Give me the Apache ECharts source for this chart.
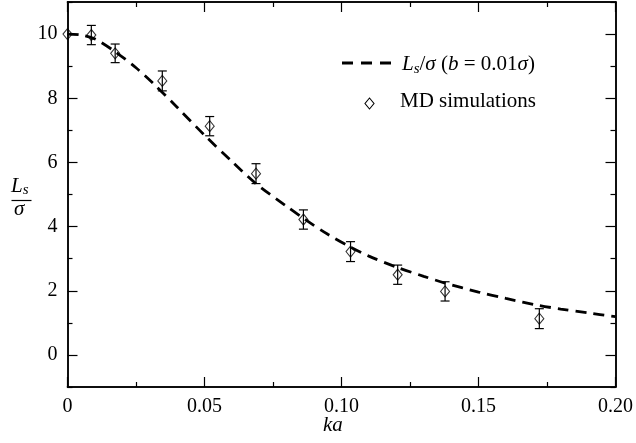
<!DOCTYPE html>
<html>
<head>
<meta charset="utf-8">
<script src="https://cdn.jsdelivr.net/npm/echarts@6/dist/echarts.min.js"></script>
<style>
html,body{margin:0;padding:0;background:#fff;}
#c{width:636px;height:443px;}
</style>
</head>
<body>
<div id="c"></div>
<script>
// MD simulation data
const kaMD  = [0, 0.0087, 0.0174, 0.0346, 0.0519, 0.0688, 0.0861, 0.1033, 0.1205, 0.1378, 0.1722];
const LsMD  = [10.0, 9.97, 9.40, 8.54, 7.13, 5.65, 4.22, 3.22, 2.50, 1.98, 1.13];
const errMD = [0, 0.30, 0.29, 0.31, 0.30, 0.31, 0.30, 0.31, 0.30, 0.30, 0.31];
// Theory curve L_s/sigma (b = 0.01 sigma)
const kaCurve = [0, 0.005, 0.01, 0.0174, 0.025, 0.0313, 0.04, 0.05, 0.06, 0.0689, 0.08, 0.0864, 0.095, 0.1033, 0.11, 0.12, 0.13, 0.1378, 0.15, 0.16, 0.1722, 0.18, 0.19, 0.20];
const LsCurve = [10.0, 9.97, 9.85, 9.45, 8.95, 8.46, 7.72, 6.85, 6.03, 5.33, 4.63, 4.24, 3.76, 3.36, 3.08, 2.74, 2.45, 2.24, 1.96, 1.76, 1.54, 1.43, 1.31, 1.19];
// Ticks
const xMajor = [0, 0.05, 0.10, 0.15, 0.20];
const xMinor = [0.025, 0.075, 0.125, 0.175];
const xLabels = ['0', '0.05', '0.10', '0.15', '0.20'];
const yMajor = [0, 2, 4, 6, 8, 10];
const yMinor = [-1, 1, 3, 5, 7, 9, 11];

const FONT = '"Liberation Serif", "DejaVu Serif", serif';
const chart = echarts.init(document.getElementById('c'), null, {renderer: 'canvas'});

function xAx(pos, ticks, len, labels) {
  return {
    type: 'value', position: pos, min: 0, max: 0.2,
    axisLine: {show: true, onZero: false, lineStyle: {color: '#000', width: 1.5}},
    axisTick: {show: true, inside: true, length: len, customValues: ticks, lineStyle: {color: '#000', width: 1.2}},
    axisLabel: labels ? {show: true, customValues: xMajor, margin: 10, color: '#000', fontFamily: FONT, fontSize: 20,
      formatter: v => xLabels[xMajor.findIndex(m => Math.abs(m - v) < 1e-9)]} : {show: false},
    splitLine: {show: false}
  };
}
function yAx(pos, ticks, len, labels) {
  return {
    type: 'value', position: pos, min: -1, max: 11,
    axisLine: {show: true, onZero: false, lineStyle: {color: '#000', width: 1.5}},
    axisTick: {show: true, inside: true, length: len, customValues: ticks, lineStyle: {color: '#000', width: 1.2}},
    axisLabel: labels ? {show: true, customValues: yMajor, margin: 10, color: '#000', fontFamily: FONT, fontSize: 20} : {show: false},
    splitLine: {show: false}
  };
}

const errData = kaMD.map((k, i) => [k, LsMD[i], errMD[i]]);

chart.setOption({
  animation: false,
  backgroundColor: '#fff',
  grid: {left: 67.5, right: 18, top: 2, bottom: 56, containLabel: false},
  xAxis: [
    xAx('bottom', xMajor, 10, true),
    xAx('bottom', xMinor, 5, false),
    xAx('top', xMajor, 10, false),
    xAx('top', xMinor, 5, false)
  ],
  yAxis: [
    yAx('left', yMajor, 10, true),
    yAx('left', yMinor, 5, false),
    yAx('right', yMajor, 10, false),
    yAx('right', yMinor, 5, false)
  ],
  series: [
    {
      type: 'line', name: 'curve', xAxisIndex: 0, yAxisIndex: 0,
      data: kaCurve.map((k, i) => [k, LsCurve[i]]),
      smooth: 0.3, showSymbol: false, symbol: 'none',
      lineStyle: {color: '#000', width: 2.8, type: [11, 7]},
      z: 2
    },
    {
      type: 'custom', name: 'err', xAxisIndex: 0, yAxisIndex: 0,
      data: errData,
      renderItem: function (params, api) {
        const x = api.value(0), y = api.value(1), e = api.value(2);
        if (!e) return {type: 'group', children: []};
        const top = api.coord([x, y + e]);
        const bot = api.coord([x, y - e]);
        const w = 4.5;
        const st = {stroke: '#000', lineWidth: 1.2};
        return {
          type: 'group',
          children: [
            {type: 'line', shape: {x1: top[0], y1: top[1], x2: bot[0], y2: bot[1]}, style: st},
            {type: 'line', shape: {x1: top[0] - w, y1: top[1], x2: top[0] + w, y2: top[1]}, style: st},
            {type: 'line', shape: {x1: bot[0] - w, y1: bot[1], x2: bot[0] + w, y2: bot[1]}, style: st}
          ]
        };
      },
      z: 3
    },
    {
      type: 'scatter', name: 'MD simulations', xAxisIndex: 0, yAxisIndex: 0,
      data: kaMD.map((k, i) => [k, LsMD[i]]),
      symbol: 'diamond', symbolSize: [9, 11],
      itemStyle: {color: 'rgba(255,255,255,0)', borderColor: '#000', borderWidth: 1.1},
      z: 4
    }
  ],
  graphic: [
    // legend: dashed line
    {type: 'line', shape: {x1: 342, y1: 63, x2: 392, y2: 63},
     style: {stroke: '#000', lineWidth: 3, lineDash: [11, 8]}},
    {type: 'text', x: 402, y: 52,
     style: {
       text: '{i|L}{sub|s}{n|/}{i|σ}{n| (}{i|b}{n| = 0.01}{i|σ}{n|)}',
       rich: {
         i: {fontFamily: FONT, fontStyle: 'italic', fontSize: 21, fill: '#000'},
         n: {fontFamily: FONT, fontSize: 21, fill: '#000'},
         sub: {fontFamily: FONT, fontStyle: 'italic', fontSize: 15, fill: '#000', verticalAlign: 'bottom', padding: [10, 0, 0, 0]}
       }
     }},
    // legend: diamond
    {type: 'polygon', shape: {points: [[369.5, 98], [374, 103.5], [369.5, 109], [365, 103.5]]},
     style: {fill: 'rgba(255,255,255,0)', stroke: '#000', lineWidth: 1.1}},
    {type: 'text', x: 400, y: 91,
     style: {text: 'MD simulations', fontFamily: FONT, fontSize: 21, fill: '#000'}},
    // y axis label as fraction
    {type: 'text', x: 11, y: 174,
     style: {
       text: '{i|L}{sub|s}',
       rich: {
         i: {fontFamily: FONT, fontStyle: 'italic', fontSize: 21, fill: '#000'},
         sub: {fontFamily: FONT, fontStyle: 'italic', fontSize: 15, fill: '#000', padding: [9, 0, 0, 0]}
       }
     }},
    {type: 'line', shape: {x1: 11.5, y1: 200.5, x2: 31.5, y2: 200.5}, style: {stroke: '#000', lineWidth: 1.2}},
    {type: 'text', x: 14, y: 199,
     style: {text: 'σ', fontFamily: FONT, fontStyle: 'italic', fontSize: 21, fill: '#000'}},
    // x axis label
    {type: 'text', x: 323, y: 415,
     style: {text: 'ka', fontFamily: FONT, fontStyle: 'italic', fontSize: 21, fill: '#000'}}
  ]
});
</script>
</body>
</html>
